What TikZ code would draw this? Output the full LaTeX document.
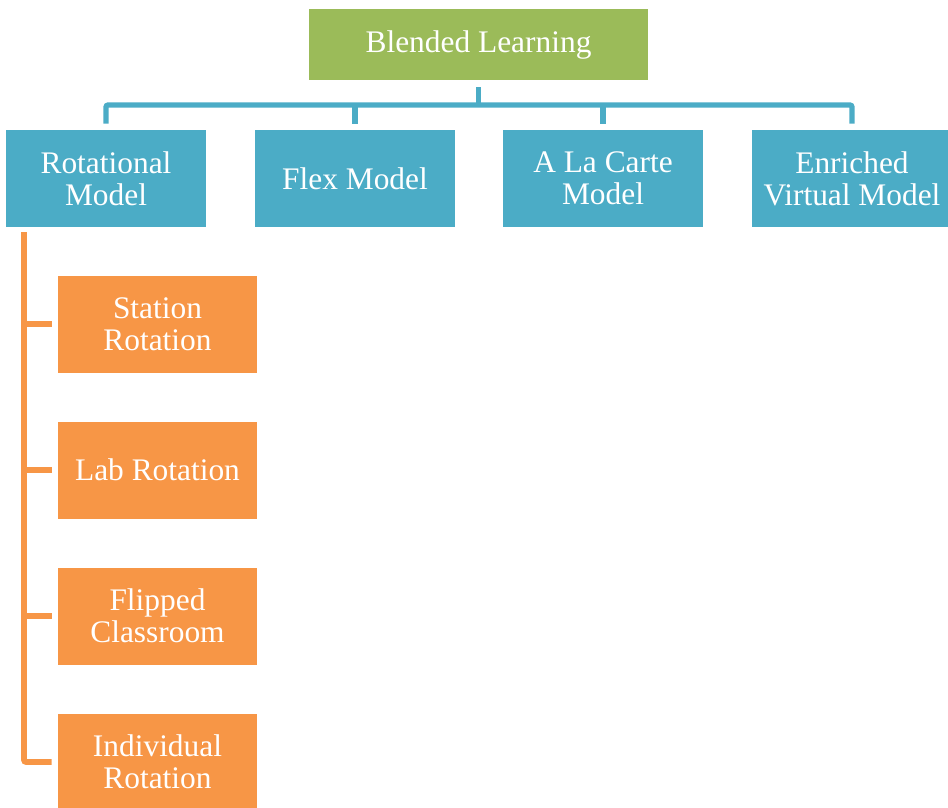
\documentclass[tikz,border=0pt]{standalone}
\usepackage{fontspec}
\setmainfont{Liberation Serif}
\usetikzlibrary{positioning}
\definecolor{leafgreen}{HTML}{9BBB59}
\definecolor{aqua}{HTML}{4BACC6}
\definecolor{tangerine}{HTML}{F79646}

\begin{document}
\begin{tikzpicture}[x=0.5pt,y=-0.5pt,
    box/.style={text=white, align=center, inner sep=0pt,
      font=\fontsize{15.7}{16}\selectfont},
    rootbox/.style={box, fill=leafgreen, minimum width=169.5pt, minimum height=35.5pt},
    modelbox/.style={box, fill=aqua, minimum width=100pt, minimum height=48.5pt},
    rotbox/.style={box, fill=tangerine, minimum width=99.5pt, minimum height=48.5pt},
    link/.style={draw=aqua, line width=2.6pt, rounded corners=1pt},
    sublink/.style={draw=tangerine, line width=2.8pt, rounded corners=1pt}]
     \useasboundingbox (0,0) rectangle (948,808);
     % top level
     \node[rootbox] (bl) at (478.5, 44.5) {Blended Learning};
     % the four models
     \node[modelbox] (rot)  at (106, 178.5) {Rotational\\Model};
     \node[modelbox] (flex) at (355, 178.5) {Flex Model};
     \node[modelbox] (alc)  at (603, 178.5) {A La Carte\\Model};
     \node[modelbox] (env)  at (852, 178.5) {Enriched\\Virtual Model};
     % kinds of rotation
     \node[rotbox] (st)  at (157.5, 324) {Station\\Rotation};
     \node[rotbox] (lab) at (157.5, 470) {Lab Rotation};
     \node[rotbox] (fc)  at (157.5, 616) {Flipped\\Classroom};
     \node[rotbox] (ind) at (157.5, 762) {Individual\\Rotation};
     % blue tree
     \coordinate (bus) at (478.5, 105);
     \draw[link] ([yshift=-3.5pt]bl.south) -- (bl.south |- bus);
     \draw[link] ([yshift=3pt]rot.north) |- (bus) -| ([yshift=3pt]env.north);
     \draw[link] ([yshift=3pt]flex.north) -- (flex.north |- bus);
     \draw[link] ([yshift=3pt]alc.north) -- (alc.north |- bus);
     % orange spine
     \coordinate (spine) at (24, 232);
     \draw[sublink] (spine) |- ([xshift=-3pt]ind.west);
     \draw[sublink] (spine |- st.west) -- ([xshift=-3pt]st.west);
     \draw[sublink] (spine |- lab.west) -- ([xshift=-3pt]lab.west);
     \draw[sublink] (spine |- fc.west) -- ([xshift=-3pt]fc.west);
    \end{tikzpicture}
\end{document}
